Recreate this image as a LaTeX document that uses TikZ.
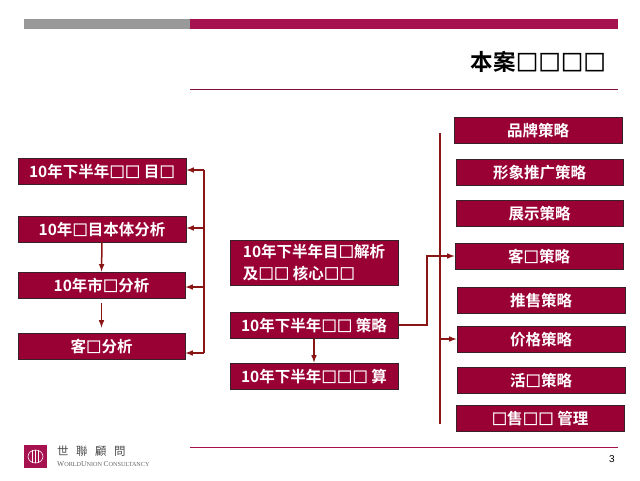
\documentclass[tikz,border=0pt]{standalone}
\usepackage{fontspec}
\setmainfont{Liberation Sans}
\newfontfamily\cjk{Noto Sans CJK SC}[BoldFont={Noto Sans CJK SC Bold}]
\newfontfamily\cjktc{Noto Sans CJK TC}
\newfontfamily\serifw{Liberation Serif}
\newfontfamily\boxf{Noto Sans CJK SC Bold}[FakeBold=1.6]
\definecolor{wine}{HTML}{990033}
\definecolor{barred}{HTML}{A6124F}
\definecolor{linkred}{HTML}{8A1515}
\definecolor{edgedark}{HTML}{3A2028}
\newcommand{\yr}{{\bfseries 10}}
\newcommand{\sq}{{\boxf □}}
\tikzset{
planbox/.style={draw=edgedark,line width=1pt,fill=wine,text=white,minimum width=168pt,minimum height=26pt,inner sep=0pt,text height=13.6pt,text depth=.4pt,font=\fontsize{15.5}{22}\cjk\bfseries},
link/.style={draw=linkred,line width=1.5pt},
linkto/.style={link,-latex}
}
\begin{document}
\begin{tikzpicture}[x=1pt,y=-1pt]
\useasboundingbox (0,0) rectangle (640,480);
\fill[black!40] (24,19) rectangle (190,29);
\fill[barred] (190,19) rectangle (618,29);
\node[font=\fontsize{22.5}{24}\cjk\bfseries,anchor=east,inner sep=0pt] (title) at (606,62) {本案\sq\sq\sq\sq};
\draw[barred!80!black,line width=1pt] (190,89) -- (618,89);
\draw[barred,line width=1pt] (190,447) -- (618,447);
\node[font=\fontsize{10}{12}\selectfont] (page) at (612,459) {3};
% left column
\node[planbox] (goal) at (102,171) {\yr 年下半年\sq\sq\ 目\sq};
\node[planbox] (project) at (102,229) {\yr 年\sq 目本体分析};
\node[planbox,minimum width=167pt] (market) at (101.5,285) {\yr 年市\sq 分析};
\node[planbox,minimum width=167pt] (client) at (101.5,346) {客\sq 分析};
\coordinate (bustop) at (204,170);
\coordinate (busbottom) at (204,353);
\draw[link] (bustop) -- (busbottom);
\draw[linkto] (bustop) -- (goal.east|-bustop);
\draw[linkto] (204,228) -- (project.east|-0,228);
\draw[linkto] (204,287) -- (market.east|-0,287);
\draw[linkto] (busbottom) -- (client.east|-busbottom);
\draw[linkto] (project.south) -- (market.north);
\draw[linkto,shorten >=5pt,shorten <=4pt] (market.south) -- (client.north);
% middle column
\node[planbox,minimum height=45pt,align=left,text height=,text depth=] (parse) at (314,262.5) {\yr 年下半年目\sq 解析\\及\sq\sq\ 核心\sq\sq};
\node[planbox] (strategy) at (314,325) {\yr 年下半年\sq\sq\ 策略};
\node[planbox] (budget) at (314,376) {\yr 年下半年\sq\sq\sq\ 算};
\draw[linkto] (strategy.south) -- (budget.north);
% right column
\node[planbox] (brand) at (538,130) {品牌策略};
\node[planbox,minimum width=167pt] (image) at (539.5,172) {形象推广策略};
\node[planbox,minimum width=167pt] (show) at (539.5,213) {展示策略};
\node[planbox] (custom) at (539,256) {客\sq 策略};
\node[planbox] (sale) at (541,300) {推售策略};
\node[planbox] (price) at (541,339) {价格策略};
\node[planbox] (event) at (541,380) {活\sq 策略};
\node[planbox] (manage) at (540,418) {\sq 售\sq\sq\ 管理};
\coordinate (railtop) at (440,133);
\coordinate (railbottom) at (440,424);
\coordinate (railprice) at (440,339);
\draw[link] (railtop) -- (railbottom);
\draw[linkto] (strategy.east) -| (427,256) -- (custom.west);
\draw[linkto] (railprice) -- (price.west);
% logo
\fill[barred] (24,445) rectangle (47,468) node[midway] (logo) {};
\draw[white,line width=.6pt] (logo) ellipse (7.5pt and 6.5pt);
\foreach \i in {-3,0,3} {
\draw[white,line width=.6pt] (35.5+\i,450) -- (35.5+\i,463);
}
\node[anchor=west,inner sep=0pt,text=black!70,font=\fontsize{11.5}{12}\cjktc] (logoname) at (57,451) {世\hspace{7.5pt}聯\hspace{7.5pt}顧\hspace{7.5pt}問};
\node[anchor=west,inner sep=0pt,text=black!60,font=\fontsize{7.5}{8}\serifw] (logotext) at (57,464) {W\fontsize{6.2}{8}\selectfont ORLD\fontsize{7.5}{8}\selectfont U\fontsize{6.2}{8}\selectfont NION \fontsize{7.5}{8}\selectfont C\fontsize{6.2}{8}\selectfont ONSULTANCY};
\end{tikzpicture}
\end{document}
